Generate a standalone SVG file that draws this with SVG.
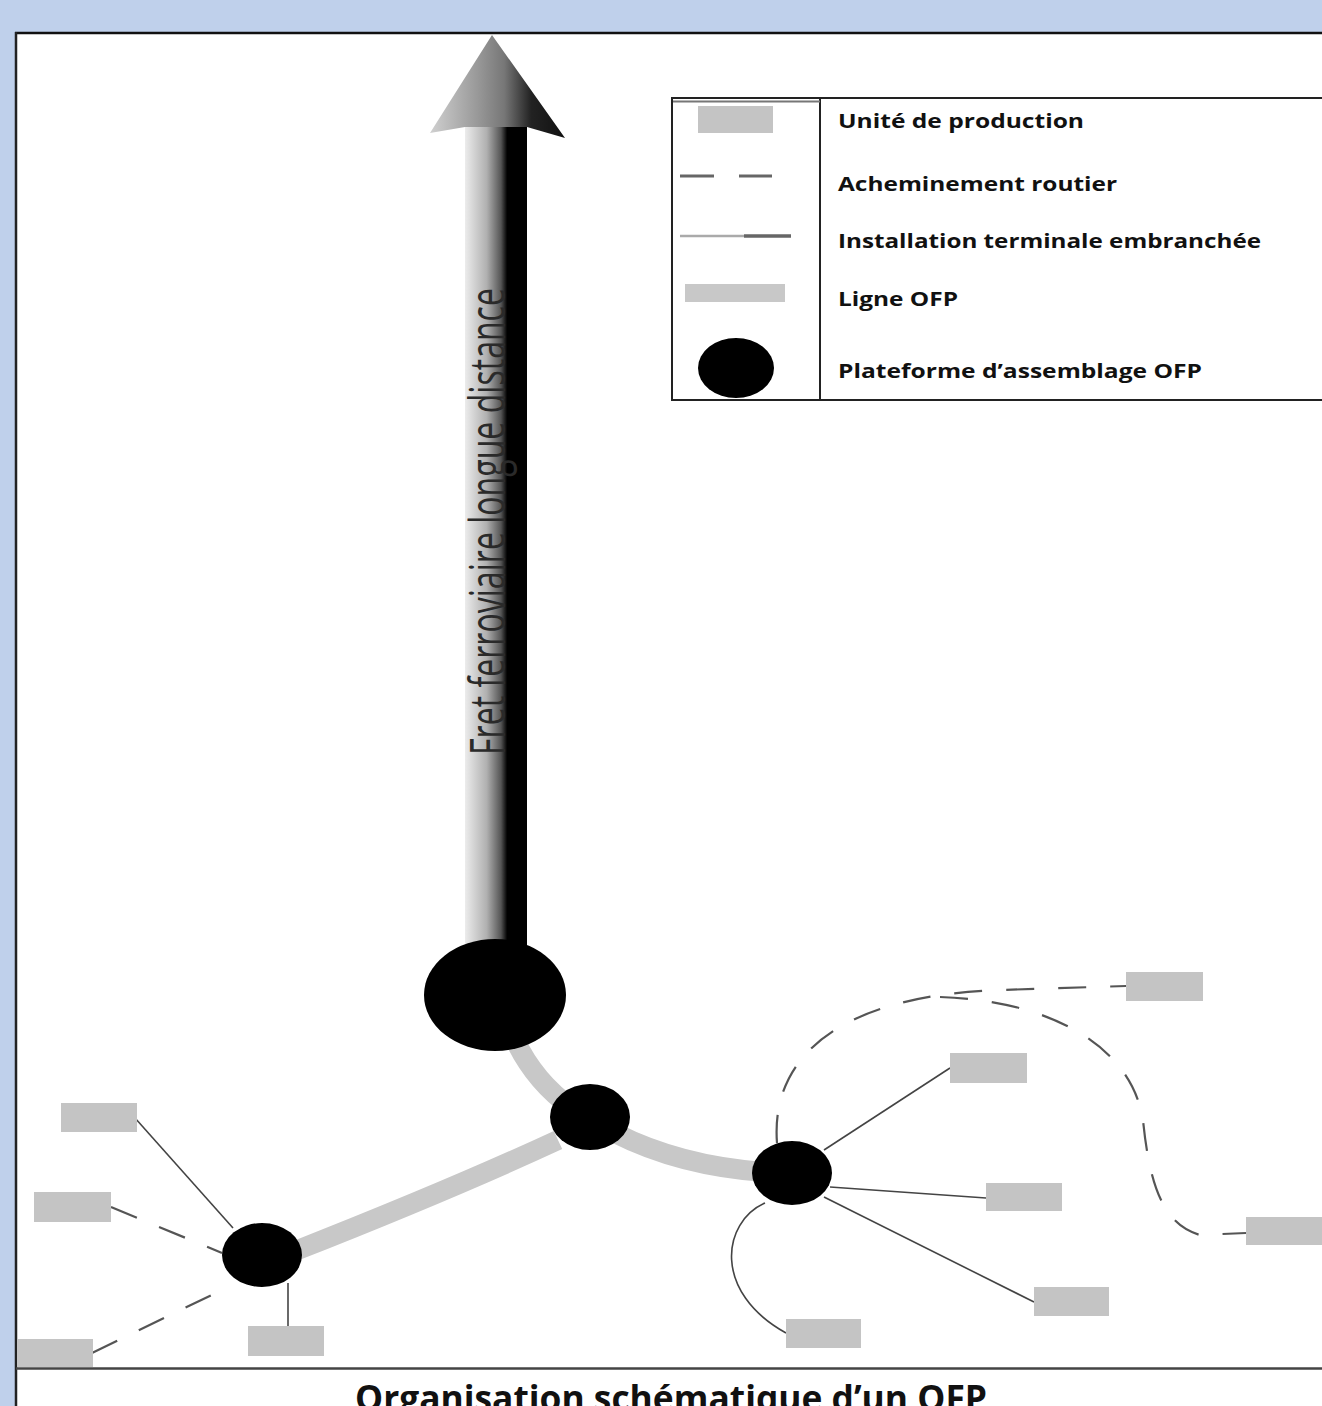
<svg xmlns="http://www.w3.org/2000/svg" width="1322" height="1406" viewBox="0 0 1322 1406">
<style>
.unit{fill:#c4c4c4}
.ofp{fill:none;stroke:#c8c8c8;stroke-width:20}
.ite{fill:none;stroke:#444;stroke-width:1.6}
.road{fill:none;stroke:#555;stroke-width:2.2;stroke-dasharray:28 24}
.plat{fill:#000}
.leg{font-family:"Open Sans","DejaVu Sans",sans-serif;font-weight:700;font-size:20px;fill:#111}
</style>
<defs>
<linearGradient id="shaft" gradientUnits="userSpaceOnUse" x1="465" y1="0" x2="527" y2="0">
<stop offset="0" stop-color="#ececec"/>
<stop offset="0.35" stop-color="#b0b0b0"/>
<stop offset="0.58" stop-color="#555"/>
<stop offset="0.68" stop-color="#000"/>
<stop offset="1" stop-color="#000"/>
</linearGradient>
<linearGradient id="head" gradientUnits="userSpaceOnUse" x1="430" y1="0" x2="565" y2="0">
<stop offset="0" stop-color="#d0d0d0"/>
<stop offset="0.35" stop-color="#999"/>
<stop offset="0.55" stop-color="#777"/>
<stop offset="0.75" stop-color="#222"/>
<stop offset="1" stop-color="#111"/>
</linearGradient>
</defs>
<g id="frame">
<rect x="0" y="0" width="1322" height="1406" fill="#bfd0eb"/>
<rect x="16" y="33" width="1320" height="1390" fill="#fff"/>
<line x1="15" y1="33" x2="1322" y2="33" stroke="#111" stroke-width="2.5"/>
<line x1="16" y1="32" x2="16" y2="1406" stroke="#222" stroke-width="2.5"/>
<line x1="16" y1="1368.5" x2="1322" y2="1368.5" stroke="#444" stroke-width="2.5"/>
</g>
<g id="arrow">
<rect x="465" y="125" width="62" height="825" fill="url(#shaft)"/>
<polygon points="492,35 565,138 527,127 465,127 430,133" fill="url(#head)"/>
<text transform="translate(505,755) rotate(-90)" x="0" y="0" textLength="467" lengthAdjust="spacingAndGlyphs" font-family="'Open Sans','DejaVu Sans',sans-serif" font-size="50" fill="#2a2a2a">Fret ferroviaire longue distance</text>
</g>
<g id="legend">
<rect x="672" y="98" width="680" height="302" fill="#fff" stroke="#222" stroke-width="2"/>
<line x1="820" y1="98" x2="820" y2="400" stroke="#222" stroke-width="2"/>
<line x1="673" y1="101.5" x2="820" y2="101.5" stroke="#777" stroke-width="2"/>
<rect class="unit" x="698" y="106" width="75" height="27"/>
<line x1="680" y1="176" x2="714" y2="176" stroke="#666" stroke-width="3"/>
<line x1="739" y1="176" x2="772" y2="176" stroke="#666" stroke-width="3"/>
<line x1="680" y1="236" x2="744" y2="236" stroke="#aaa" stroke-width="2.5"/>
<line x1="744" y1="236" x2="791" y2="236" stroke="#666" stroke-width="3.5"/>
<rect x="685" y="284" width="100" height="18" fill="#c8c8c8"/>
<ellipse cx="736" cy="368" rx="38" ry="30" class="plat"/>
<text class="leg" x="838" y="128" textLength="246" lengthAdjust="spacingAndGlyphs">Unité de production</text>
<text class="leg" x="838" y="191" textLength="279" lengthAdjust="spacingAndGlyphs">Acheminement routier</text>
<text class="leg" x="838" y="248" textLength="423" lengthAdjust="spacingAndGlyphs">Installation terminale embranchée</text>
<text class="leg" x="838" y="306" textLength="120" lengthAdjust="spacingAndGlyphs">Ligne OFP</text>
<text class="leg" x="838" y="378" textLength="364" lengthAdjust="spacingAndGlyphs">Plateforme d’assemblage OFP</text>
</g>
<g id="connectors">
<path class="ofp" d="M515 1040 Q535 1082 572 1108"/>
<path class="ofp" d="M615 1133 Q680 1166 765 1172"/>
<path class="ofp" d="M558 1140 Q450 1190 295 1251"/>
<line class="ite" x1="135" y1="1118" x2="233" y2="1228"/>
<line class="road" x1="111" y1="1207" x2="222" y2="1253"/>
<line class="road" x1="92" y1="1353" x2="226" y2="1288"/>
<line class="ite" x1="288" y1="1283" x2="288" y2="1326"/>
<line class="ite" x1="824" y1="1150" x2="950" y2="1068"/>
<line class="ite" x1="830" y1="1187" x2="986" y2="1198"/>
<line class="ite" x1="824" y1="1197" x2="1034" y2="1302"/>
<path class="ite" d="M765 1203 C722 1222 712 1292 786 1333"/>
<path class="road" d="M777 1143 C770 1050 850 995 1000 990 L1126 986"/>
<path class="road" d="M940 997 C1040 1000 1130 1040 1143 1120 C1150 1190 1165 1225 1200 1235 L1246 1233"/>
</g>
<g id="platforms">
<ellipse id="plat-main" class="plat" cx="495" cy="995" rx="71" ry="56"/>
<ellipse id="plat-mid" class="plat" cx="590" cy="1117" rx="40" ry="33"/>
<ellipse id="plat-right" class="plat" cx="792" cy="1173" rx="40" ry="32"/>
<ellipse id="plat-left" class="plat" cx="262" cy="1255" rx="40" ry="32"/>
</g>
<g id="units">
<rect id="u1" class="unit" x="61" y="1103" width="76" height="29"/>
<rect id="u2" class="unit" x="34" y="1192" width="77" height="30"/>
<rect id="u3" class="unit" x="17" y="1339" width="76" height="28"/>
<rect id="u4" class="unit" x="248" y="1326" width="76" height="30"/>
<rect id="u5" class="unit" x="1126" y="972" width="77" height="29"/>
<rect id="u6" class="unit" x="950" y="1053" width="77" height="30"/>
<rect id="u7" class="unit" x="986" y="1183" width="76" height="28"/>
<rect id="u8" class="unit" x="1246" y="1217" width="80" height="28"/>
<rect id="u9" class="unit" x="1034" y="1287" width="75" height="29"/>
<rect id="u10" class="unit" x="786" y="1319" width="75" height="29"/>
</g>
<g id="title">
<text x="671" y="1411" text-anchor="middle" textLength="632" lengthAdjust="spacingAndGlyphs" font-family="'Open Sans','DejaVu Sans',sans-serif" font-weight="700" font-size="35" fill="#111">Organisation schématique d’un OFP</text>
</g>
</svg>
